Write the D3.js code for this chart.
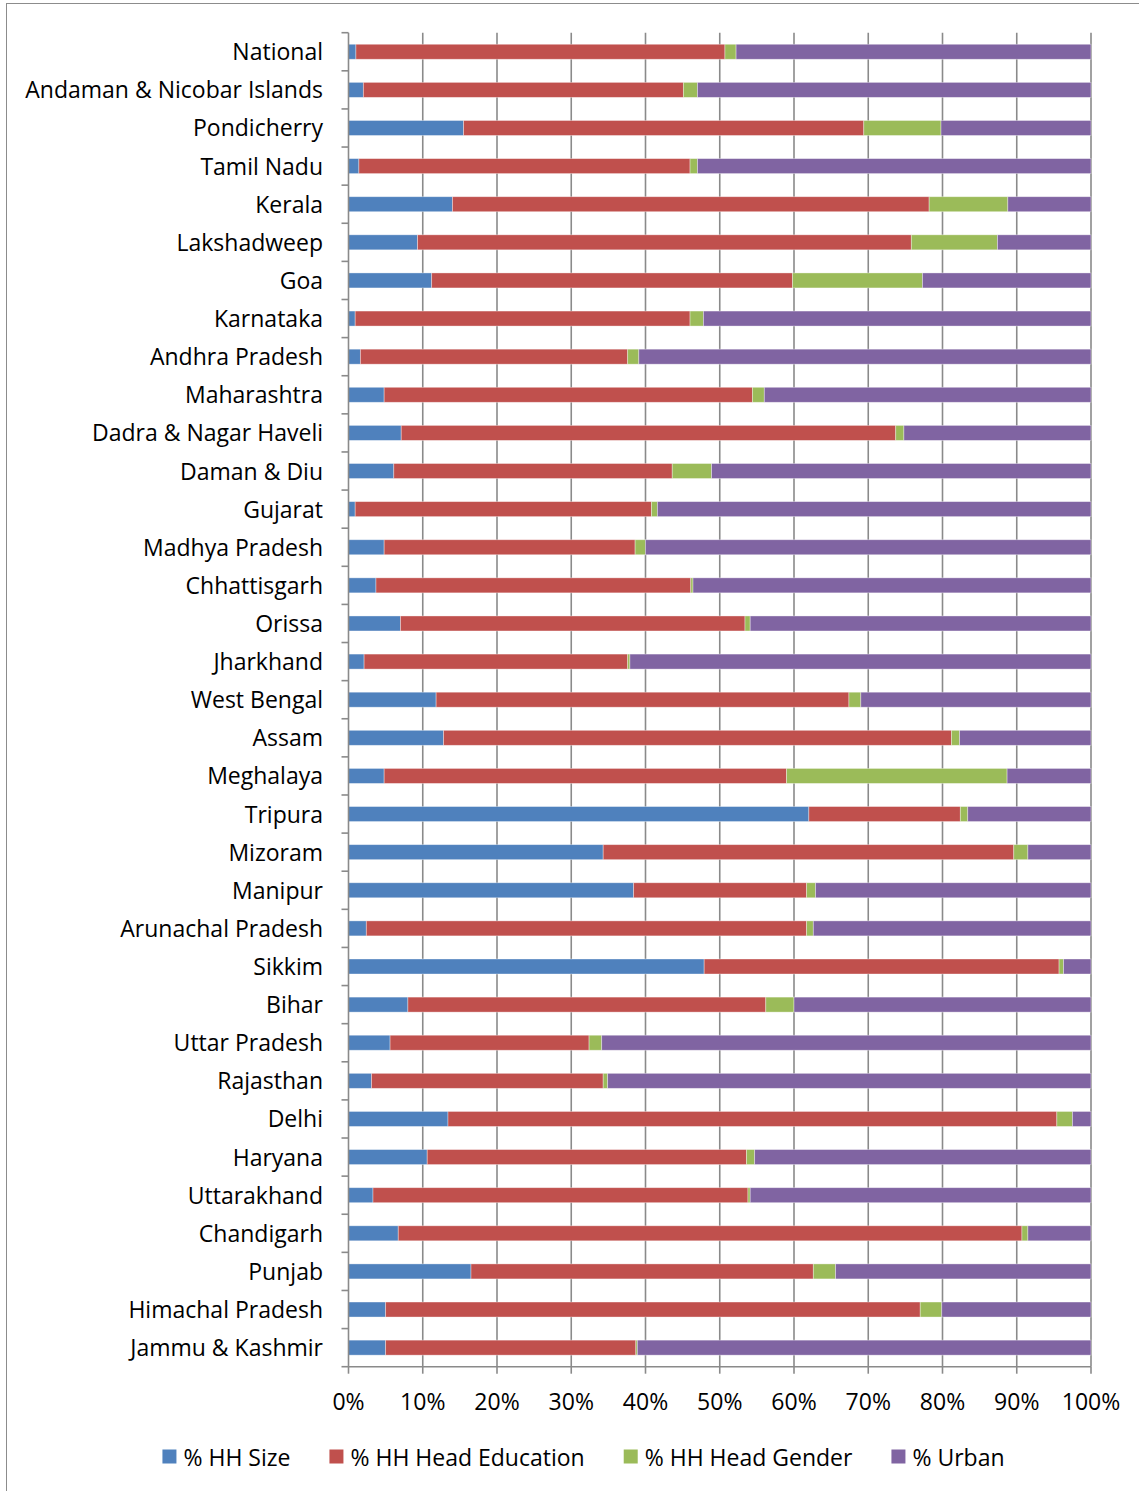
<!DOCTYPE html>
<html>
<head>
<meta charset="utf-8">
<script src="https://cdn.jsdelivr.net/npm/d3@7"></script>
<style>
  html, body { margin: 0; padding: 0; background: #fff; }
  svg { display: block; }
  text { font-family: "Open Sans", "Noto Sans", sans-serif; fill: #000; }
</style>
</head>
<body>
<svg id="chart" width="1139" height="1491"></svg>
<script>
// States / UTs, top to bottom
const categories = [
  "National", "Andaman & Nicobar Islands", "Pondicherry", "Tamil Nadu", "Kerala",
  "Lakshadweep", "Goa", "Karnataka", "Andhra Pradesh", "Maharashtra",
  "Dadra & Nagar Haveli", "Daman & Diu", "Gujarat", "Madhya Pradesh", "Chhattisgarh",
  "Orissa", "Jharkhand", "West Bengal", "Assam", "Meghalaya",
  "Tripura", "Mizoram", "Manipur", "Arunachal Pradesh", "Sikkim",
  "Bihar", "Uttar Pradesh", "Rajasthan", "Delhi", "Haryana",
  "Uttarakhand", "Chandigarh", "Punjab", "Himachal Pradesh", "Jammu & Kashmir"
];

// Share of each factor (percent), same order as categories
const hhSize = [
  1.0, 2.0, 15.5, 1.4, 14.0,
  9.3, 11.2, 0.9, 1.6, 4.8,
  7.1, 6.1, 0.9, 4.8, 3.7,
  7.0, 2.1, 11.8, 12.8, 4.8,
  62.0, 34.3, 38.4, 2.4, 47.9,
  8.0, 5.6, 3.1, 13.4, 10.6,
  3.3, 6.7, 16.5, 5.0, 5.0
];
const hhHeadEducation = [
  49.7, 43.1, 53.9, 44.6, 64.2,
  66.5, 48.6, 45.1, 36.0, 49.6,
  66.6, 37.5, 39.9, 33.8, 42.4,
  46.4, 35.5, 55.6, 68.4, 54.2,
  20.4, 55.3, 23.3, 59.3, 47.8,
  48.2, 26.8, 31.2, 82.0, 43.0,
  50.5, 84.0, 46.1, 72.0, 33.7
];
const hhHeadGender = [
  1.5, 1.9, 10.4, 1.0, 10.6,
  11.6, 17.5, 1.8, 1.5, 1.6,
  1.1, 5.3, 0.8, 1.4, 0.3,
  0.7, 0.3, 1.6, 1.1, 29.7,
  1.0, 1.9, 1.2, 0.9, 0.6,
  3.8, 1.7, 0.6, 2.1, 1.1,
  0.3, 0.8, 3.0, 2.9, 0.2
];
const urban = [
  47.8, 53.0, 20.2, 53.0, 11.2,
  12.6, 22.7, 52.2, 60.9, 44.0,
  25.2, 51.1, 58.4, 60.0, 53.6,
  45.9, 62.1, 31.0, 17.7, 11.3,
  16.6, 8.5, 37.1, 37.4, 3.7,
  40.0, 65.9, 65.1, 2.5, 45.3,
  45.9, 8.5, 34.4, 20.1, 61.1
];

const seriesNames = ["% HH Size", "% HH Head Education", "% HH Head Gender", "% Urban"];
const seriesColors = ["#4F81BD", "#C0504D", "#9BBB59", "#8064A2"];
const xTicks = [0, 0.1, 0.2, 0.3, 0.4, 0.5, 0.6, 0.7, 0.8, 0.9, 1.0];

// Table for the stack layout
const seriesValues = [hhSize, hhHeadEducation, hhHeadGender, urban];
const rows = categories.map((c, i) => {
  const r = { category: c };
  seriesNames.forEach((s, k) => { r[s] = seriesValues[k][i]; });
  return r;
});

const svg = d3.select("#chart");
const fontSize = 23;

// Chart frame
svg.append("rect")
  .attr("x", 6.5).attr("y", 3.5)
  .attr("width", 1145).attr("height", 1500)
  .attr("fill", "none").attr("stroke", "#8c8c8c").attr("stroke-width", 1);

const plot = { left: 348.5, right: 1091, top: 32.7, bottom: 1366.7 };

const x = d3.scaleLinear().domain([0, 1]).range([plot.left, plot.right]);
const y = d3.scaleBand().domain(categories).range([plot.top, plot.bottom]).padding(0);
const barH = 15;

const stacked = d3.stack().keys(seriesNames).offset(d3.stackOffsetExpand)(rows);

// Vertical gridlines
svg.append("g")
  .selectAll("line")
  .data(xTicks.slice(1))
  .join("line")
  .attr("x1", d => x(d)).attr("x2", d => x(d))
  .attr("y1", plot.top).attr("y2", plot.bottom)
  .attr("stroke", "#8a8a8a").attr("stroke-width", 1.6);

// Bars
svg.append("g")
  .selectAll("g")
  .data(stacked)
  .join("g")
  .attr("fill", (d, i) => seriesColors[i])
  .selectAll("rect")
  .data(d => d)
  .join("rect")
  .attr("x", d => x(d[0]))
  .attr("width", d => Math.max(0, x(d[1]) - x(d[0])))
  .attr("y", d => y(d.data.category) + y.bandwidth() / 2 - barH / 2)
  .attr("height", barH)
  .attr("stroke", "rgba(255,255,255,0.45)")
  .attr("stroke-width", 0.8);

// Category axis (left)
const yAxis = svg.append("g");
yAxis.append("line")
  .attr("x1", plot.left).attr("x2", plot.left)
  .attr("y1", plot.top).attr("y2", plot.bottom)
  .attr("stroke", "#8a8a8a").attr("stroke-width", 1.6);
const boundaries = categories.map(c => y(c)).concat([plot.bottom]);
yAxis.selectAll("line.tick")
  .data(boundaries)
  .join("line")
  .attr("class", "tick")
  .attr("x1", plot.left - 7).attr("x2", plot.left)
  .attr("y1", d => d).attr("y2", d => d)
  .attr("stroke", "#8a8a8a").attr("stroke-width", 1.6);
yAxis.selectAll("text")
  .data(categories)
  .join("text")
  .attr("x", 323)
  .attr("y", d => y(d) + y.bandwidth() / 2 - 0.5)
  .attr("text-anchor", "end")
  .attr("dominant-baseline", "central")
  .attr("font-size", fontSize)
  .text(d => d);

// Value axis (bottom)
const xAxis = svg.append("g");
xAxis.append("line")
  .attr("x1", plot.left).attr("x2", plot.right)
  .attr("y1", plot.bottom).attr("y2", plot.bottom)
  .attr("stroke", "#8a8a8a").attr("stroke-width", 1.6);
xAxis.selectAll("line.tick")
  .data(xTicks)
  .join("line")
  .attr("class", "tick")
  .attr("x1", d => x(d)).attr("x2", d => x(d))
  .attr("y1", plot.bottom).attr("y2", plot.bottom + 7)
  .attr("stroke", "#8a8a8a").attr("stroke-width", 1.6);
xAxis.selectAll("text")
  .data(xTicks)
  .join("text")
  .attr("x", d => x(d))
  .attr("y", 1400.5)
  .attr("text-anchor", "middle")
  .attr("dominant-baseline", "central")
  .attr("font-size", fontSize)
  .text(d => d3.format(".0%")(d));

// Legend, laid out left to right and centred
const legend = svg.append("g");
const items = legend.selectAll("g")
  .data(seriesNames)
  .join("g");
items.append("rect")
  .attr("width", 14).attr("height", 14)
  .attr("y", -7)
  .attr("fill", (d, i) => seriesColors[i]);
items.append("text")
  .attr("x", 21)
  .attr("y", 0)
  .attr("dominant-baseline", "central")
  .attr("font-size", fontSize)
  .text(d => d);
let cursor = 0;
const offsets = [];
items.each(function () {
  offsets.push(cursor);
  const w = d3.select(this).select("text").node().getComputedTextLength();
  cursor += 21 + w + 39;
});
const totalW = cursor - 39;
const legendLeft = 583.5 - totalW / 2;
items.attr("transform", (d, i) => `translate(${legendLeft + offsets[i]},1456.5)`);
</script>
</body>
</html>
